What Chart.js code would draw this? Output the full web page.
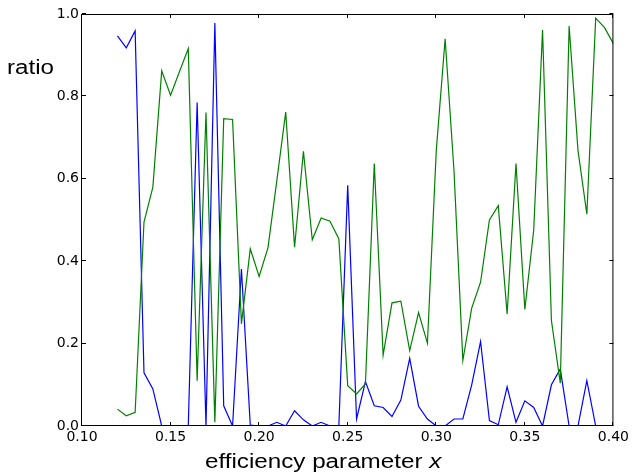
<!DOCTYPE html>
<html>
<head>
<meta charset="utf-8">
<title>ratio vs efficiency parameter</title>
<script src="https://cdn.jsdelivr.net/npm/chart.js@4"></script>
<style>
  html, body { margin: 0; padding: 0; background: #fff; }
  canvas { display: block; }
</style>
</head>
<body>
<canvas id="chart" width="632" height="473"></canvas>
<script>
// efficiency parameter x, sampled every 0.005
const xValues = [
  0.120, 0.125, 0.130, 0.135, 0.140, 0.145, 0.150, 0.155, 0.160, 0.165,
  0.170, 0.175, 0.180, 0.185, 0.190, 0.195, 0.200, 0.205, 0.210, 0.215,
  0.220, 0.225, 0.230, 0.235, 0.240, 0.245, 0.250, 0.255, 0.260, 0.265,
  0.270, 0.275, 0.280, 0.285, 0.290, 0.295, 0.300, 0.305, 0.310, 0.315,
  0.320, 0.325, 0.330, 0.335, 0.340, 0.345, 0.350, 0.355, 0.360, 0.365,
  0.370, 0.375, 0.380, 0.385, 0.390, 0.395, 0.400
];

const blueRatio = [
  0.947, 0.918, 0.959, 0.129, 0.090, 0.000, 0.000, 0.000, 0.000, 0.785,
  0.000, 0.978, 0.049, 0.000, 0.381, 0.002, 0.000, 0.000, 0.009, 0.000,
  0.037, 0.015, 0.000, 0.009, 0.000, 0.000, 0.584, 0.017, 0.108, 0.049,
  0.045, 0.023, 0.063, 0.164, 0.048, 0.017, 0.000, 0.000, 0.017, 0.017,
  0.100, 0.205, 0.013, 0.003, 0.095, 0.009, 0.061, 0.045, 0.000, 0.100,
  0.138, 0.000, 0.000, 0.110, 0.000, 0.000, 0.000
];

const greenRatio = [
  0.041, 0.025, 0.033, 0.495, 0.580, 0.862, 0.803, 0.860, 0.916, 0.110,
  0.761, 0.009, 0.746, 0.744, 0.248, 0.430, 0.363, 0.433, 0.596, 0.762,
  0.434, 0.667, 0.452, 0.505, 0.497, 0.454, 0.098, 0.078, 0.102, 0.637,
  0.172, 0.299, 0.303, 0.183, 0.275, 0.201, 0.669, 0.940, 0.620, 0.159,
  0.286, 0.349, 0.500, 0.535, 0.272, 0.637, 0.283, 0.475, 0.961, 0.256,
  0.104, 0.971, 0.669, 0.514, 0.990, 0.967, 0.928
];

const xTicks = [0.10, 0.15, 0.20, 0.25, 0.30, 0.35, 0.40];
const yTicks = [0.0, 0.2, 0.4, 0.6, 0.8, 1.0];

const FONT = '"DejaVu Sans", "Bitstream Vera Sans", sans-serif';
const TITLE_FONT = '"Liberation Sans", Arial, Helvetica, sans-serif';
const TITLE_STRETCH = 1.21; // titles are set wide

function toPoints(ys) {
  return xValues.map((x, i) => ({ x: x, y: ys[i] }));
}

// draws a list of [text, fontStyle] runs from (x, y), stretched horizontally
function drawWideText(ctx, runs, x, y) {
  ctx.save();
  ctx.translate(x, y);
  ctx.scale(TITLE_STRETCH, 1);
  let cx = 0;
  runs.forEach(([text, style]) => {
    ctx.font = style + ' 20px ' + TITLE_FONT;
    ctx.fillText(text, cx, 0);
    cx += ctx.measureText(text).width;
  });
  ctx.restore();
}

// Box around the axes, inward ticks on every side and the two axis titles
const framePlugin = {
  id: 'frame',
  afterDraw(chart) {
    const ctx = chart.ctx;
    const a = chart.chartArea;
    const sx = chart.scales.x;
    const sy = chart.scales.y;
    const tick = 4;

    ctx.save();
    ctx.strokeStyle = '#000';
    ctx.lineWidth = 1;
    ctx.strokeRect(a.left - 0.5, a.top + 0.5, a.right - a.left, a.bottom - a.top - 1);

    ctx.beginPath();
    xTicks.forEach((v) => {
      const px = Math.round(sx.getPixelForValue(v)) - 0.5;
      ctx.moveTo(px, a.bottom); ctx.lineTo(px, a.bottom - tick);
      ctx.moveTo(px, a.top); ctx.lineTo(px, a.top + tick);
    });
    yTicks.forEach((v) => {
      const py = Math.round(sy.getPixelForValue(v)) - 0.5;
      ctx.moveTo(a.left, py); ctx.lineTo(a.left + tick, py);
      ctx.moveTo(a.right, py); ctx.lineTo(a.right - tick, py);
    });
    ctx.stroke();

    ctx.fillStyle = '#000';
    ctx.textAlign = 'left';
    ctx.textBaseline = 'alphabetic';

    // y title sits horizontally, left of the top ticks
    drawWideText(ctx, [['ratio', 'normal']], 7, 74);

    // x title, with the symbol in italics
    drawWideText(ctx, [['efficiency parameter ', 'normal'], ['x', 'italic']], 205, 468);
    ctx.restore();
  }
};

new Chart(document.getElementById('chart'), {
  type: 'line',
  data: {
    datasets: [
      {
        label: 'blue',
        data: toPoints(blueRatio),
        borderColor: '#0000ff',
        borderWidth: 1.2,
        pointRadius: 0,
        tension: 0,
        order: 2
      },
      {
        label: 'green',
        data: toPoints(greenRatio),
        borderColor: '#008000',
        borderWidth: 1.2,
        pointRadius: 0,
        tension: 0,
        order: 1
      }
    ]
  },
  options: {
    responsive: false,
    devicePixelRatio: 1,
    animation: false,
    layout: { padding: { top: 14, right: 18, left: 0, bottom: 0 } },
    plugins: {
      legend: { display: false },
      tooltip: { enabled: false }
    },
    scales: {
      x: {
        type: 'linear',
        min: 0.10,
        max: 0.40,
        grid: { display: false, drawTicks: false },
        border: { display: false },
        afterBuildTicks: (scale) => { scale.ticks = xTicks.map((v) => ({ value: v })); },
        afterFit: (scale) => { scale.height = 47; },
        ticks: {
          color: '#000',
          padding: 3,
          maxRotation: 0,
          font: { family: FONT, size: 14 },
          callback: (v) => v.toFixed(2)
        }
      },
      y: {
        min: 0,
        max: 1,
        grid: { display: false, drawTicks: false },
        border: { display: false },
        afterBuildTicks: (scale) => { scale.ticks = yTicks.map((v) => ({ value: v })); },
        afterFit: (scale) => { scale.width = 82; },
        ticks: {
          color: '#000',
          padding: 3,
          font: { family: FONT, size: 14 },
          callback: (v) => v.toFixed(1)
        }
      }
    }
  },
  plugins: [framePlugin]
});
</script>
</body>
</html>
